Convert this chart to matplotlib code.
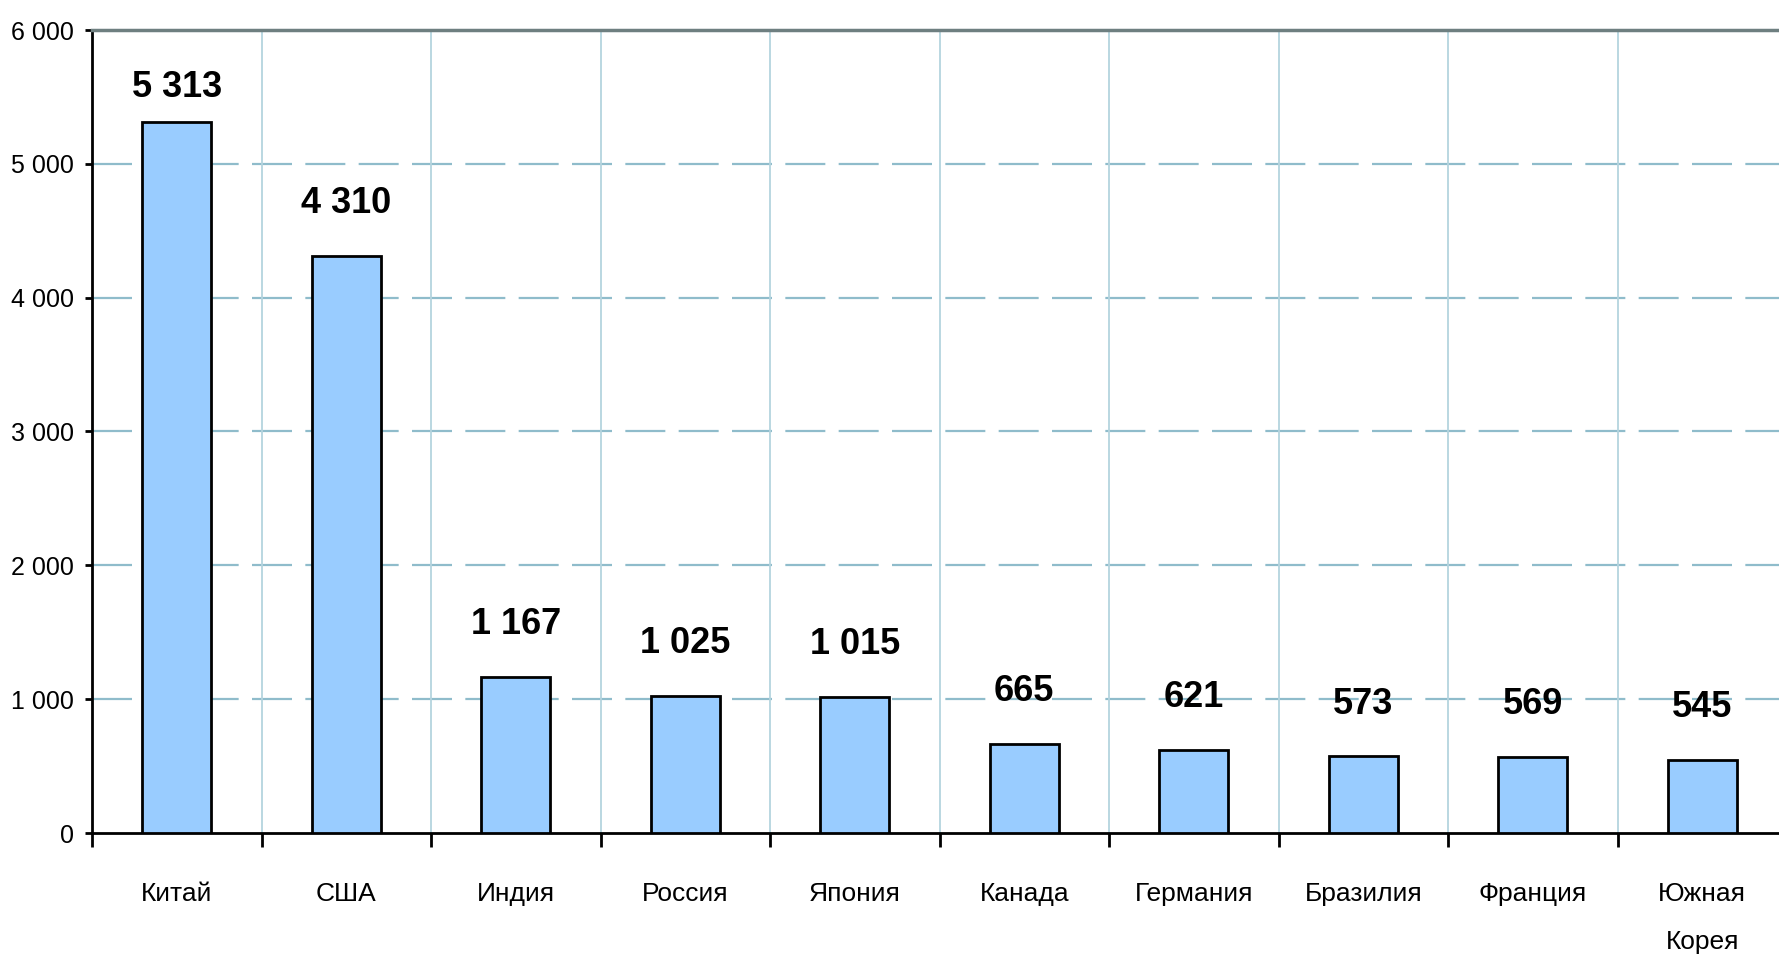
import matplotlib.pyplot as plt
from matplotlib.ticker import FixedLocator

# Chart data
countries = ['Китай', 'США', 'Индия', 'Россия', 'Япония', 'Канада',
             'Германия', 'Бразилия', 'Франция', 'Южная\nКорея']
values = [5313, 4310, 1167, 1025, 1015, 665, 621, 573, 569, 545]
y_ticks = [0, 1000, 2000, 3000, 4000, 5000, 6000]

plt.rcParams['font.family'] = ['Liberation Sans Narrow', 'Liberation Sans', 'DejaVu Sans']

fig = plt.figure(figsize=(17.79, 9.63), dpi=100)
W, H = 1779, 963
left, right, top, bottom = 92, 1787, 30, 833
ax = fig.add_axes([left / W, 1 - bottom / H, (right - left) / W, (bottom - top) / H])

x = list(range(len(countries)))
ax.bar(x, values, width=0.41, color='#99CCFF', edgecolor='black', linewidth=2, zorder=3)

# value labels above bars
for i, v in enumerate(values):
    off = 12 if v > 5000 else 25
    ax.annotate(f'{v:,}'.replace(',', ' '), (i, v), xytext=(0, off),
                textcoords='offset points', ha='center', va='bottom',
                fontsize=26, fontweight='bold')

ax.set_xlim(-0.5, len(countries) - 0.5)
ax.set_ylim(0, 6000)

# y axis
ax.set_yticks(y_ticks)
ax.set_yticklabels([f'{t:,}'.replace(',', ' ') for t in y_ticks], fontsize=18)
ax.tick_params(axis='y', length=5, width=2, pad=8, direction='out')

# x axis: tick marks on category boundaries, labels at centers
ax.xaxis.set_major_locator(FixedLocator([i - 0.5 for i in range(len(countries) + 1)]))
ax.xaxis.set_minor_locator(FixedLocator(x))
ax.set_xticklabels([], minor=False)
ax.set_xticklabels(countries, minor=True, fontsize=19, linespacing=2.3)
ax.tick_params(axis='x', which='major', length=10, width=2, direction='out')
ax.tick_params(axis='x', which='minor', length=0, pad=35)

# grid
for t in y_ticks[1:-1]:
    ax.axhline(t, color='#8FBCCB', lw=1.6, linestyle=(0, (18, 6)), zorder=1)
for b in range(1, len(countries) + 1):
    ax.axvline(b - 0.5, color='#B4D4DE', lw=1.3, zorder=1)

for s in ['left', 'bottom']:
    ax.spines[s].set_linewidth(2)
    ax.spines[s].set_color('black')
ax.spines['right'].set_visible(False)
ax.spines['top'].set_color('#6E7F80')
ax.spines['top'].set_linewidth(2.5)

fig.savefig('out.png', dpi=100)
